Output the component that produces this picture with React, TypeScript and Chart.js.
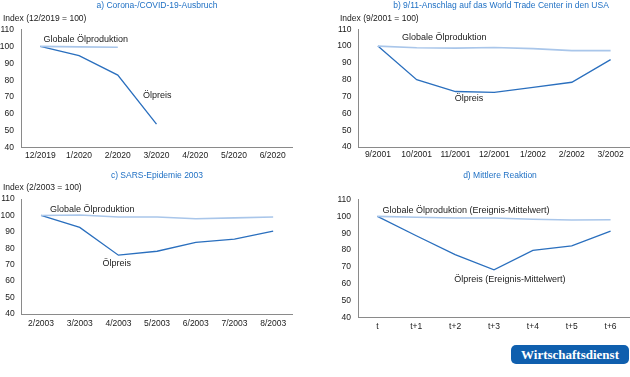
import React, { useEffect, useRef } from "react";
import { Chart, registerables } from "chart.js";
Chart.register(...registerables);

// ---- data ----
const catsA = ["12/2019", "1/2020", "2/2020", "3/2020", "4/2020", "5/2020", "6/2020"];
const priceA = [100, 94.5, 83, 54, null, null, null];
const prodA = [100, 99.7, 99.5, null, null, null, null];

const catsB = ["9/2001", "10/2001", "11/2001", "12/2001", "1/2002", "2/2002", "3/2002"];
const priceB = [100, 80, 73, 72.5, 75.5, 78.5, 92];
const prodB = [100, 99, 98.8, 99.2, 98.5, 97.3, 97.3];

const catsC = ["2/2003", "3/2003", "4/2003", "5/2003", "6/2003", "7/2003", "8/2003"];
const priceC = [100, 92.7, 75.8, 78.2, 83.6, 85.6, 90.5];
const prodC = [100, 100.3, 99, 99, 98, 98.5, 99];

const catsD = ["t", "t+1", "t+2", "t+3", "t+4", "t+5", "t+6"];
const priceD = [100, 88.5, 77.3, 68.3, 79.8, 82.5, 91.3];
const prodD = [100, 99.5, 99, 99, 98.3, 97.8, 98];

const yTicks = [40, 50, 60, 70, 80, 90, 100, 110];

const titles = [
  "a) Corona-/COVID-19-Ausbruch",
  "b) 9/11-Anschlag auf das World Trade Center in den USA",
  "c) SARS-Epidemie 2003",
  "d) Mittlere Reaktion",
];
const indexLabels = ["Index (12/2019 = 100)", "Index (9/2001 = 100)", "Index (2/2003 = 100)", ""];

const PRICE_COLOR = "#2a6fbe";
const PROD_COLOR = "#a9c6ea";
const TITLE_COLOR = "#1f70c4";
const FONT = "'Liberation Sans', Arial, sans-serif";

type Lbl = { text: string; x: number; y: number };

const panels = [
  {
    left: 0, top: 0, width: 315, height: 165,
    axisW: 21, padR: 23, padT: 29.5, padB: 3.3, tickPad: 3,
    cats: catsA, price: priceA, prod: prodA,
    labels: [
      { text: "Globale Ölproduktion", x: 0.08, y: 103.8 },
      { text: "Ölpreis", x: 2.65, y: 70.7 },
    ] as Lbl[],
  },
  {
    left: 315, top: 0, width: 315, height: 165,
    axisW: 43.5, padR: 0, padT: 29.3, padB: 4, tickPad: 3,
    cats: catsB, price: priceB, prod: prodB,
    labels: [
      { text: "Globale Ölproduktion", x: 0.62, y: 105.1 },
      { text: "Ölpreis", x: 1.98, y: 68.8 },
    ] as Lbl[],
  },
  {
    left: 0, top: 165, width: 315, height: 170,
    axisW: 21.7, padR: 22.5, padT: 34, padB: 7, tickPad: 4.5,
    cats: catsC, price: priceC, prod: prodC,
    labels: [
      { text: "Globale Ölproduktion", x: 0.23, y: 103.9 },
      { text: "Ölpreis", x: 1.59, y: 70.8 },
    ] as Lbl[],
  },
  {
    left: 315, top: 165, width: 315, height: 172,
    axisW: 43, padR: 0, padT: 34.5, padB: 5.5, tickPad: 4.5,
    cats: catsD, price: priceD, prod: prodD,
    labels: [
      { text: "Globale Ölproduktion (Ereignis-Mittelwert)", x: 0.13, y: 103.4 },
      { text: "Ölpreis (Ereignis-Mittelwert)", x: 1.98, y: 62.4 },
    ] as Lbl[],
  },
];

const labelPlugin = {
  id: "lineLabels",
  afterDatasetsDraw(chart: any, _args: any, opts: any) {
    const items: Lbl[] = opts.items || [];
    const { ctx } = chart;
    const xs = chart.scales.x;
    const ys = chart.scales.y;
    ctx.save();
    ctx.font = `9px ${FONT}`;
    ctx.fillStyle = "#1a1a1a";
    ctx.textAlign = "left";
    ctx.textBaseline = "middle";
    for (const it of items) {
      const i0 = Math.floor(it.x);
      const frac = it.x - i0;
      const p0 = xs.getPixelForValue(i0);
      const p1 = xs.getPixelForValue(i0 + 1);
      const px = p0 + (p1 - p0) * frac;
      ctx.fillText(it.text, px, ys.getPixelForValue(it.y));
    }
    ctx.restore();
  },
};

function Panel({ p }: { p: (typeof panels)[number] }) {
  const ref = useRef<HTMLCanvasElement>(null);
  useEffect(() => {
    if (!ref.current) return;
    const chart = new Chart(ref.current, {
      type: "line",
      data: {
        labels: p.cats,
        datasets: [
          {
            data: p.prod,
            borderColor: PROD_COLOR,
            borderWidth: 1.6,
            pointRadius: 0,
            tension: 0,
            spanGaps: false,
          },
          {
            data: p.price,
            borderColor: PRICE_COLOR,
            borderWidth: 1.3,
            pointRadius: 0,
            tension: 0,
            spanGaps: false,
          },
        ],
      },
      options: {
        animation: false,
        responsive: false,
        maintainAspectRatio: false,
        layout: { padding: { left: 0, right: p.padR, top: p.padT, bottom: p.padB } },
        plugins: {
          legend: { display: false },
          tooltip: { enabled: false },
          title: { display: false },
          lineLabels: { items: p.labels },
        } as any,
        scales: {
          x: {
            type: "category",
            offset: true,
            grid: { display: false, drawTicks: false },
            border: { display: true, color: "#8a8a8a", width: 1 },
            ticks: {
              color: "#1a1a1a",
              font: { family: FONT, size: 8.5 },
              padding: p.tickPad,
              maxRotation: 0,
              autoSkip: false,
            },
            afterFit: (s: any) => {
              s.height = 14;
            },
          },
          y: {
            min: 40,
            max: 110,
            afterBuildTicks: (s: any) => {
              s.ticks = yTicks.map((v) => ({ value: v }));
            },
            grid: { display: false, drawTicks: false },
            border: { display: true, color: "#8a8a8a", width: 1 },
            ticks: {
              color: "#1a1a1a",
              font: { family: FONT, size: 8.5 },
              padding: 7,
            },
            afterFit: (s: any) => {
              s.width = p.axisW;
            },
          },
        },
      },
      plugins: [labelPlugin],
    });
    return () => chart.destroy();
  }, [p]);
  return (
    <canvas
      ref={ref}
      width={p.width}
      height={p.height}
      style={{ position: "absolute", left: p.left, top: p.top, width: p.width, height: p.height }}
    />
  );
}

const titlePos = [
  { cx: 157, cy: 5 },
  { cx: 501, cy: 5 },
  { cx: 157, cy: 175 },
  { cx: 500, cy: 175 },
];
const indexPos = [
  { x: 3, cy: 18 },
  { x: 340, cy: 18 },
  { x: 3, cy: 187 },
  { x: 0, cy: 0 },
];

export default function App() {
  return (
    <div
      style={{
        position: "absolute",
        left: 0,
        top: 0,
        width: 630,
        height: 377,
        background: "#fff",
        overflow: "hidden",
        fontFamily: FONT,
      }}
    >
      {panels.map((p, i) => (
        <Panel key={i} p={p} />
      ))}
      {titles.map((t, i) => (
        <div
          key={"t" + i}
          style={{
            position: "absolute",
            left: titlePos[i].cx - 200,
            width: 400,
            top: titlePos[i].cy - 6,
            height: 12,
            lineHeight: "12px",
            textAlign: "center",
            fontSize: 8.5,
            color: TITLE_COLOR,
            whiteSpace: "nowrap",
          }}
        >
          {t}
        </div>
      ))}
      {indexLabels.map((t, i) =>
        t ? (
          <div
            key={"i" + i}
            style={{
              position: "absolute",
              left: indexPos[i].x,
              top: indexPos[i].cy - 6,
              height: 12,
              lineHeight: "12px",
              fontSize: 8.5,
              color: "#1a1a1a",
              whiteSpace: "nowrap",
            }}
          >
            {t}
          </div>
        ) : null
      )}
      <div
        style={{
          position: "absolute",
          left: 511,
          top: 345,
          width: 118,
          height: 19,
          borderRadius: 5,
          background: "#0f5fae",
          color: "#fff",
          fontFamily: "'Liberation Serif', 'DejaVu Serif', serif",
          fontWeight: "bold",
          fontSize: 13,
          lineHeight: "19px",
          textAlign: "center",
        }}
      >
        Wirtschaftsdienst
      </div>
    </div>
  );
}
